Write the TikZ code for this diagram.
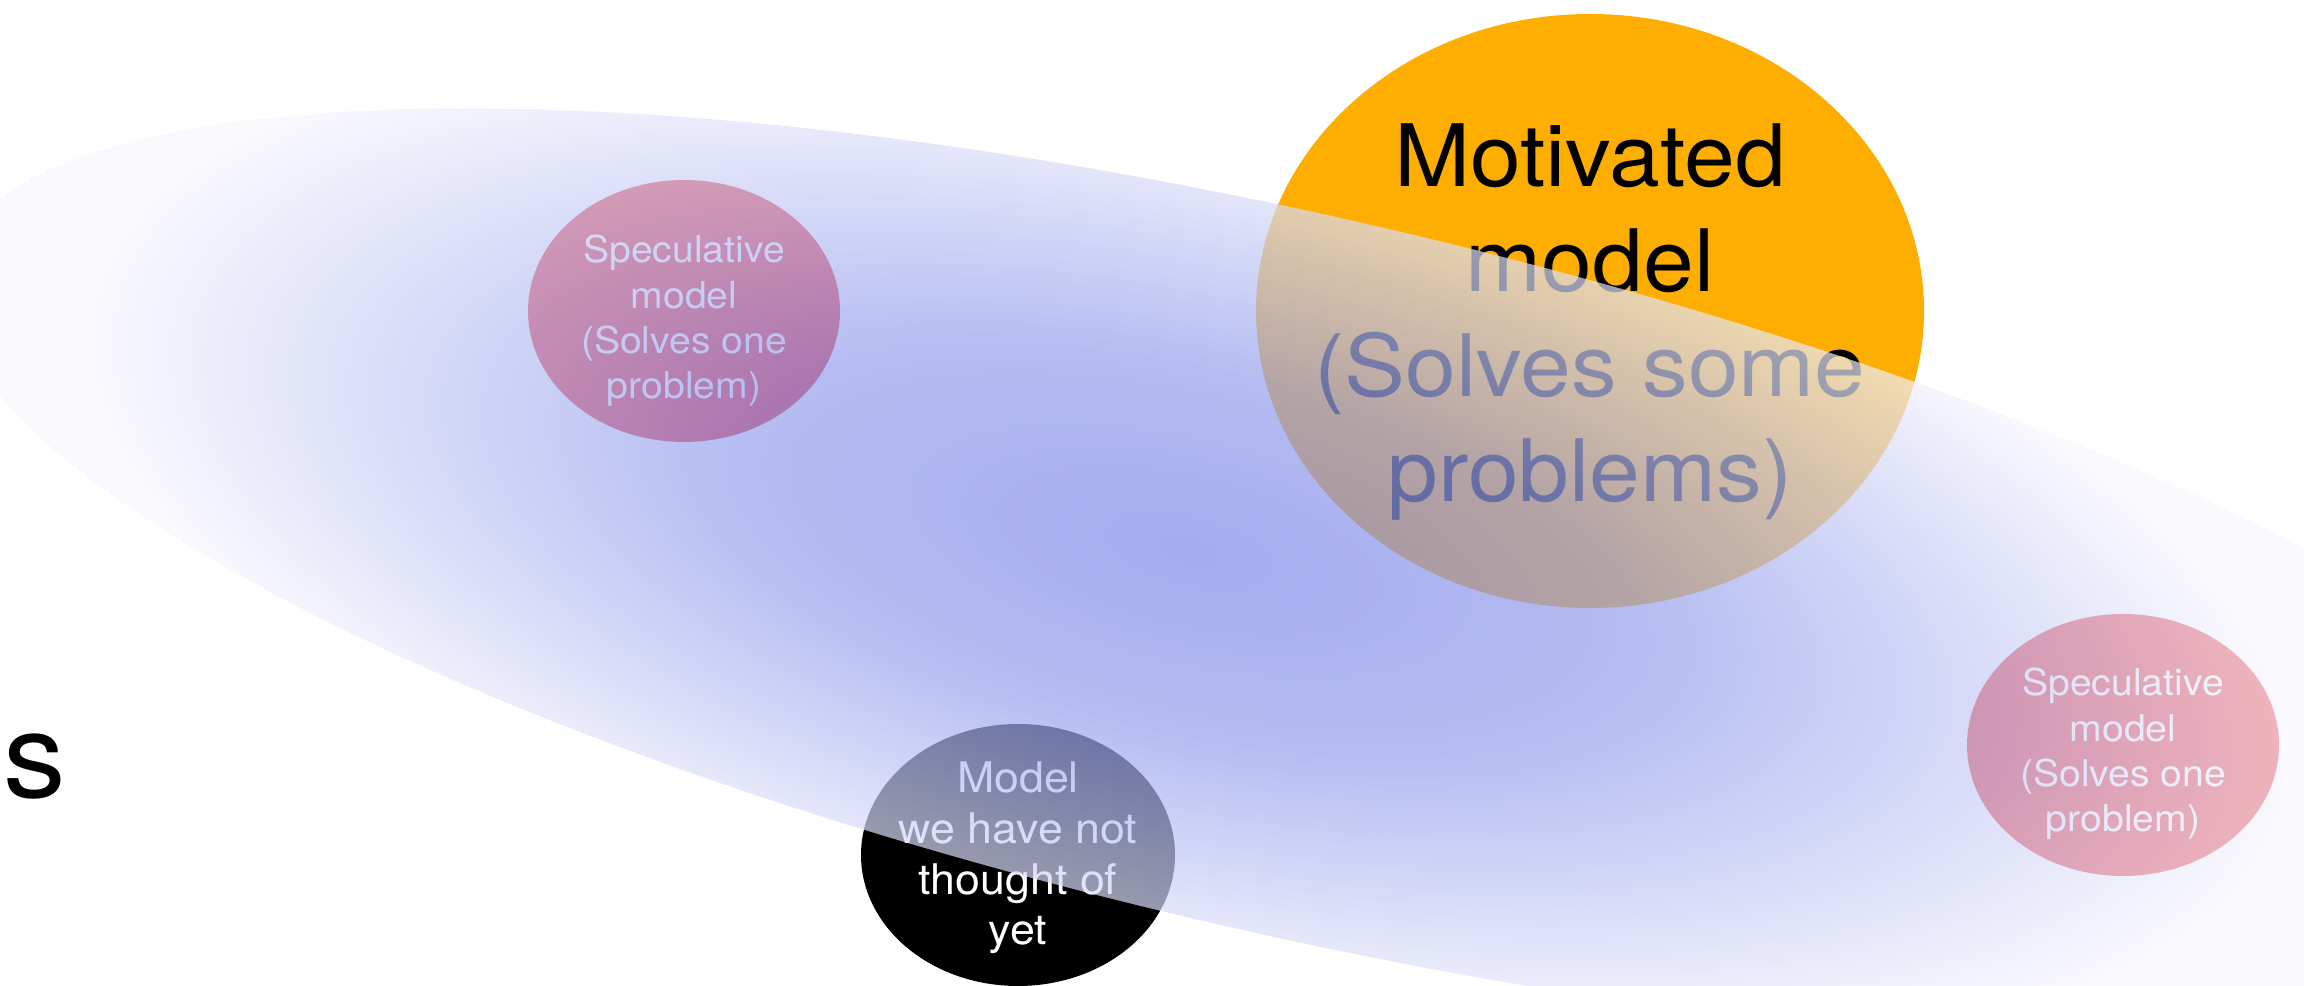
\documentclass[tikz,border=0pt]{standalone}
\usepackage{fontspec}
\setmainfont[FakeStretch=1.06]{TeX Gyre Heros}
\usepackage{xcolor}
\definecolor{motivorange}{RGB}{253, 174, 0}
\definecolor{specred}{RGB}{225, 25, 35}
\definecolor{glowA}{RGB}{125, 136, 230}
\definecolor{glowB}{RGB}{150, 160, 236}
\definecolor{glowC}{RGB}{202, 207, 245}
\definecolor{glowD}{RGB}{246, 246, 253}
\usepackage{tikz}
\pgfdeclareradialshading{blueglow}{\pgfpoint{0bp}{0bp}}{color(0bp)=(glowA); color(7bp)=(glowB); color(12.5bp)=(glowC); color(17bp)=(glowD); color(50bp)=(glowD)}

\begin{document}
\begin{tikzpicture}[x=0.01cm, y=-0.01cm,
  bigtext/.style={font=\fontsize{24.5}{29.8}\selectfont, align=center, inner sep=0pt},
  spectext/.style={font=\fontsize{10.5}{12.9}\selectfont, text=white, align=center, inner sep=0pt},
  unknowntext/.style={font=\fontsize{12}{14.4}\selectfont, text=white, align=center, inner sep=0pt}]
  \useasboundingbox (0,0) rectangle (2304,986);
  \clip (0,0) rectangle (2304,986);

  % Cut-off word
  \node[font=\fontsize{33.6}{40}\selectfont, anchor=base west, inner sep=0pt] (cut) at (3,797) {s};

  % Speculative models
  \fill[specred] (684,311) ellipse [x radius=156, y radius=131];
  \node[spectext] (specleft) at (684,321) {Speculative\\model\\(Solves one\\problem)};
  \fill[specred] (2123,745) ellipse [x radius=156, y radius=131];
  \node[spectext] (specright) at (2123,754) {Speculative\\model\\(Solves one\\problem)};

  % Motivated model
  \fill[motivorange] (1590,311) ellipse [x radius=334, y radius=297];
  \node[bigtext] (motiv) at (1590,322) {Motivated\\model\\(Solves some\\problems)};

  % Model not thought of yet
  \fill[black] (1018,855) ellipse [x radius=157, y radius=131];
  \node[unknowntext] (unknown) at (1018,858) {Model\\we have not\\thought of\\yet};

  % Blue cloud over everything
  \begin{scope}[transform canvas={shift={(1296,575)}, rotate=-13}]
    \clip (0,0) ellipse [x radius=1378, y radius=358];
    \shade[shading=blueglow, fill opacity=0.7] (-1760,-645) rectangle (1540,645);
  \end{scope}
\end{tikzpicture}
\end{document}
